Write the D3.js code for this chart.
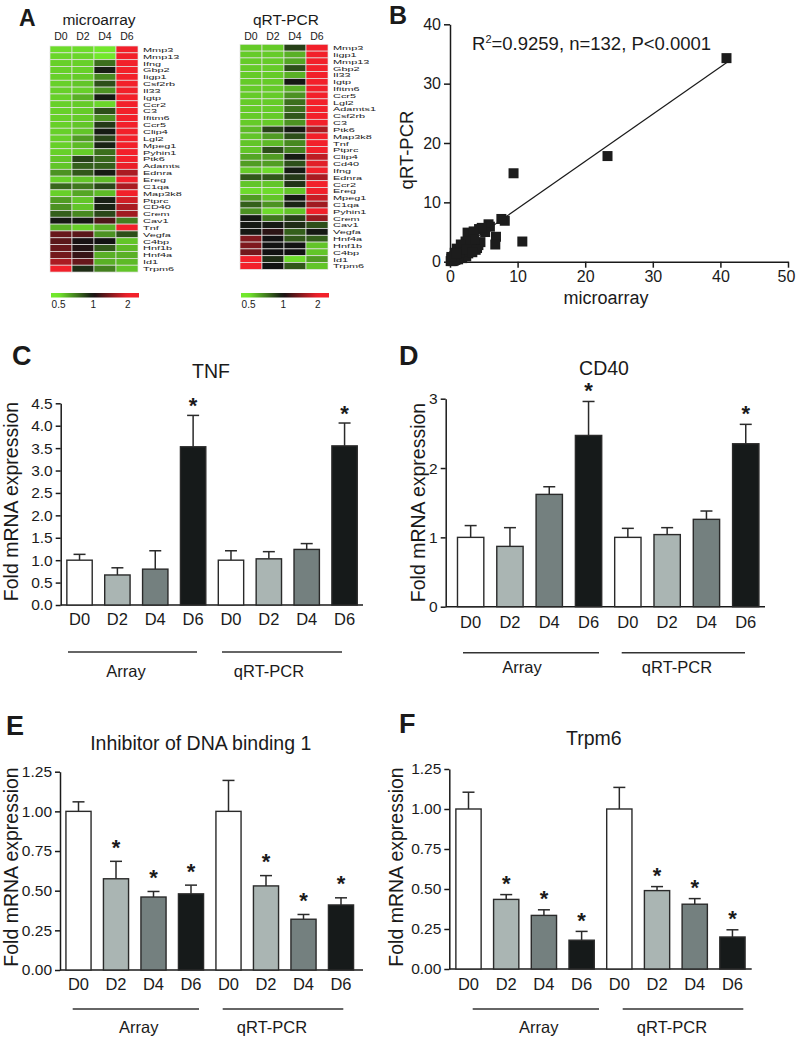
<!DOCTYPE html>
<html><head><meta charset="utf-8">
<script src="https://cdn.jsdelivr.net/npm/d3@7"></script>
<style>
body{margin:0;background:#fff}
svg{display:block}
text{font-family:"Liberation Sans",Arial,Helvetica,sans-serif;fill:#1a1a1a}
</style>
</head><body>
<svg id="chart" width="796" height="1037"></svg>
<script>
// ---------------- DATA ----------------
const days = ["D0","D2","D4","D6"];

// Panel A heatmaps (fold change, colour scale 0.5 green - 1 black - 2 red)
const arrayGenes = ["Mmp3","Mmp13","Ifng","Gbp2","Iigp1","Csf2rb","Il33","Igtp","Ccr2","C3","Ifitm6","Ccr5","Clip4","Lgl2","Mpeg1","Pyhin1","Ptk6","Adamts","Ednra","Ereg","C1qa","Map3k8","Ptprc","CD40","Crem","Cav1","Tnf","Vegfa","C4bp","Hnf1b","Hnf4a","Id1","Trpm6"];
const arrayValues = [
 [0.52,0.52,0.50,2.0],[0.53,0.53,0.50,2.0],[0.54,0.54,0.74,2.0],[0.54,0.54,0.96,2.0],
 [0.54,0.55,0.68,2.0],[0.54,0.56,0.82,2.0],[0.54,0.54,0.66,2.0],[0.54,0.60,0.97,2.0],
 [0.54,0.55,0.53,2.0],[0.54,0.55,0.82,2.0],[0.54,0.55,0.66,2.0],[0.54,0.56,0.88,2.0],
 [0.54,0.56,0.97,2.0],[0.54,0.64,0.85,2.0],[0.54,0.58,0.95,2.0],[0.54,0.55,0.74,2.0],
 [0.56,0.86,0.76,2.0],[0.56,0.78,0.78,1.95],[0.66,0.80,0.97,1.6],[0.54,0.56,0.58,2.0],
 [0.76,0.72,0.84,1.6],[0.54,0.62,0.58,2.0],[0.64,0.56,0.96,1.8],[0.66,0.56,0.95,1.6],
 [0.78,0.68,0.84,1.55],[0.98,0.98,1.20,0.70],[0.60,0.54,0.60,2.0],[1.30,1.25,0.66,0.82],
 [1.25,1.02,1.00,0.56],[1.30,1.05,0.80,0.58],[1.35,1.12,0.60,0.60],[1.60,1.30,0.60,0.58],
 [2.0,0.92,0.70,0.56]
];
const pcrGenes = ["Mmp3","Iigp1","Mmp13","Gbp2","Il33","Igtp","Ifitm6","Ccr5","Lgl2","Adamts1","Csf2rb","C3","Ptk6","Map3k8","Tnf","Ptprc","Clip4","Cd40","Ifng","Ednra","Ccr2","Ereg","Mpeg1","C1qa","Pyhin1","Crem","Cav1","Vegfa","Hnf4a","Hnf1b","C4bp","Id1","Trpm6"];
const pcrValues = [
 [0.55,0.55,0.86,2.0],[0.55,0.55,0.60,2.0],[0.55,0.55,0.62,2.0],[0.55,0.55,0.82,2.0],
 [0.55,0.55,0.60,2.0],[0.55,0.55,0.98,2.0],[0.55,0.55,0.60,2.0],[0.55,0.55,0.66,2.0],
 [0.55,0.55,0.74,2.0],[0.55,0.55,0.74,2.0],[0.55,0.55,0.80,2.0],[0.55,0.55,0.66,2.0],
 [0.58,0.85,0.97,1.6],[0.56,0.64,0.82,2.0],[0.56,0.58,0.68,2.0],[0.56,0.82,0.70,2.0],
 [0.62,0.64,0.97,1.7],[0.64,0.64,0.82,1.9],[0.55,0.52,0.97,2.0],[0.80,0.80,0.88,1.6],
 [0.56,0.56,0.90,2.0],[0.52,0.52,0.56,2.0],[0.64,0.56,0.97,1.75],[0.78,0.66,0.95,1.55],
 [0.66,0.52,0.56,2.0],[0.98,0.72,0.86,1.5],[0.98,0.98,0.92,0.82],[0.98,1.08,0.78,0.98],
 [1.40,1.00,0.80,0.78],[1.40,1.00,1.00,0.56],[1.35,1.00,1.00,0.56],[2.0,0.92,0.52,0.64],
 [2.0,1.00,0.80,0.56]
];
const colorbarTicks = [0.5, 1, 2];
const colorbarTickLabels = ["0.5","1","2"];

// Panel B scatter
const scatterX = [40.9,23.3,9.4,10.7,8.1,7.6,6.8,6.7,5.7,5.9,5.2,4.3,4.7,2.6,2.8,3.5,4.2,4.0,4.5,3.0,2.7,3.2,2.2,1.7,1.0,1.3,0.7,1.5,2.0,0.9,0.5,0.3,0.2,0.6,1.1,1.8,2.4,0.4,0.8,1.2,0.1,2.9,3.6,3.8,2.3,1.6,0.6,1.4,2.5,3.3,0.2,0.9];
const scatterY = [34.3,17.8,14.9,3.4,6.9,7.2,4.2,2.9,6.3,5.9,5.0,5.5,5.7,4.9,4.6,5.1,2.8,2.3,3.3,2.5,1.4,3.0,2.6,1.7,2.2,2.0,1.5,0.9,1.2,0.6,0.4,0.2,0.5,0.9,1.1,0.6,0.9,0.1,0.3,0.4,0.1,1.8,3.8,2.0,3.4,2.9,0.2,1.5,2.1,1.6,0.8,1.3];
const regLineX = [0, 41];
const regLineY = [1.0, 33.6];
const scatterXTicks = [0,10,20,30,40,50];
const scatterYTicks = [0,10,20,30,40];

// Panels C-F bar charts
const barCategories = ["D0","D2","D4","D6","D0","D2","D4","D6"];
const groupLabels = ["Array","qRT-PCR"];
const tnfMean  = [1.00,0.67,0.80,3.53,1.00,1.03,1.24,3.55];
const tnfSem   = [0.13,0.16,0.41,0.70,0.21,0.16,0.13,0.51];
const tnfSig   = [0,0,0,1,0,0,0,1];
const cd40Mean = [1.00,0.87,1.62,2.47,1.00,1.04,1.26,2.35];
const cd40Sem  = [0.17,0.27,0.11,0.49,0.13,0.10,0.12,0.28];
const cd40Sig  = [0,0,0,1,0,0,0,1];
const id1Mean  = [1.00,0.575,0.46,0.48,1.00,0.53,0.32,0.41];
const id1Sem   = [0.06,0.11,0.035,0.055,0.195,0.065,0.03,0.045];
const id1Sig   = [0,1,1,1,0,1,1,1];
const trpm6Mean= [1.00,0.435,0.335,0.18,1.00,0.49,0.405,0.20];
const trpm6Sem = [0.105,0.03,0.035,0.055,0.135,0.025,0.035,0.045];
const trpm6Sig = [0,1,1,1,0,1,1,1];
const tnfTicks = [0,0.5,1,1.5,2,2.5,3,3.5,4,4.5];
const cd40Ticks = [0,1,2,3];
const smallTicks = [0,0.25,0.5,0.75,1,1.25];

// ---------------- DRAWING ----------------
const svg = d3.select("#chart");
svg.append("rect").attr("width",796).attr("height",1037).attr("fill","#fff");
const INK = "#1a1a1a";

function panelLetter(t,x,y,fs){
  svg.append("text").attr("x",x).attr("y",y).attr("font-size",fs).attr("font-weight","bold").text(t);
}

// ----- Panel A -----
const heatColor = d3.scaleLog().domain([0.5,1,2]).range(["#72e82c","#121212","#f2202a"])
  .interpolate(d3.interpolateRgb).clamp(true);
const defs = svg.append("defs");

function heatmap(o){
  const g = svg.append("g");
  const x = d3.scaleBand().domain(days).range([o.x0,o.x1]);
  const y = d3.scaleBand().domain(o.genes).range([o.y0, o.y0 + o.genes.length*o.rowH]);
  o.genes.forEach((gene,i)=>{
    g.selectAll(null).data(o.values[i]).join("rect")
      .attr("x",(d,j)=>x(days[j])).attr("y",y(gene))
      .attr("width",x.bandwidth()).attr("height",y.bandwidth())
      .attr("fill",d=>heatColor(d)).attr("stroke","#e4e4e4").attr("stroke-width",0.7);
  });
  g.selectAll(null).data(o.genes).join("text")
    .attr("transform",d=>`translate(${o.labelX},${y(d)+y.bandwidth()/2+2.4}) scale(1.85,1)`)
    .attr("font-size",5.9).text(d=>d);
  g.selectAll(null).data(days).join("text")
    .attr("x",d=>x(d)+x.bandwidth()/2).attr("y",40).attr("text-anchor","middle")
    .attr("font-size",10.5).text(d=>d);
  g.append("text").attr("x",o.titleX).attr("y",25).attr("text-anchor","middle")
    .attr("font-size",15.5).text(o.title);
  // colour bar
  const cb = d3.scaleLog().domain([0.43,2.5]).range([o.x0+1,o.x1+1]);
  const gid = "grad"+o.id;
  const grad = defs.append("linearGradient").attr("id",gid);
  d3.range(0,1.0001,0.05).forEach(t=>{
    const v = cb.invert(o.x0+1 + t*(o.x1-o.x0));
    grad.append("stop").attr("offset",t).attr("stop-color",heatColor(v));
  });
  g.append("rect").attr("x",o.x0+1).attr("y",293).attr("width",o.x1-o.x0).attr("height",4.5)
    .attr("fill",`url(#${gid})`);
  g.selectAll(null).data(colorbarTicks).join("text")
    .attr("x",d=>cb(d)).attr("y",308).attr("text-anchor","middle").attr("font-size",10)
    .text((d,i)=>colorbarTickLabels[i]);
}
panelLetter("A",19,26,23);
heatmap({id:"a",title:"microarray",genes:arrayGenes,values:arrayValues,x0:50,x1:138,y0:46,rowH:6.85,labelX:143,titleX:99});
heatmap({id:"b",title:"qRT-PCR",genes:pcrGenes,values:pcrValues,x0:240,x1:328,y0:44.3,rowH:6.82,labelX:333,titleX:286});

// ----- Panel B -----
(function(){
  const xs = d3.scaleLinear().domain([0,50]).range([450,788]);
  const ys = d3.scaleLinear().domain([0,40]).range([261.7,24.3]);
  const gx = svg.append("g").attr("transform","translate(0,261.7)")
    .call(d3.axisBottom(xs).tickValues(scatterXTicks).tickSize(6).tickSizeOuter(0).tickPadding(3));
  const gy = svg.append("g").attr("transform","translate(450,0)")
    .call(d3.axisLeft(ys).tickValues(scatterYTicks).tickSize(6).tickSizeOuter(0).tickPadding(3));
  [gx,gy].forEach(a=>{
    a.select(".domain").attr("stroke",INK).attr("stroke-width",1.5);
    a.selectAll(".tick line").attr("stroke",INK).attr("stroke-width",1.5);
    a.selectAll(".tick text").attr("font-size",16).attr("fill",INK)
      .attr("font-family","Liberation Sans,Arial,sans-serif");
  });
  gx.selectAll(".tick text").filter(d=>d===50).attr("dx",-2);
  svg.append("line").attr("x1",xs(regLineX[0])).attr("y1",ys(regLineY[0]))
    .attr("x2",xs(regLineX[1])).attr("y2",ys(regLineY[1])).attr("stroke",INK).attr("stroke-width",1.2);
  svg.append("g").selectAll("rect").data(scatterX).join("rect")
    .attr("x",(d)=>xs(d)-5).attr("y",(d,i)=>ys(scatterY[i])-5)
    .attr("width",10).attr("height",10).attr("fill","#1c1c1c");
  const t = svg.append("text").attr("x",472).attr("y",50).attr("font-size",18.5);
  t.append("tspan").text("R");
  t.append("tspan").attr("font-size",11).attr("dy",-7).text("2");
  t.append("tspan").attr("dy",7).text("=0.9259, n=132, P<0.0001");
  svg.append("text").attr("x",606).attr("y",304).attr("text-anchor","middle").attr("font-size",18).text("microarray");
  svg.append("text").attr("transform","translate(413,150) rotate(-90)").attr("text-anchor","middle")
    .attr("font-size",18.5).text("qRT-PCR");
  panelLetter("B",389,24,25);
})();

// ----- Bar panels -----
const barFill = {D0:"#ffffff",D2:"#aab5b3",D4:"#74807f",D6:"#161a1a"};
function barPanel(o){
  const g = svg.append("g");
  const xb = d3.scaleBand().domain(d3.range(barCategories.length)).range(o.band)
    .paddingInner(0.33).paddingOuter(0.165);
  const y = d3.scaleLinear().domain([0,o.yMax]).range([o.yBase,o.yTop]);
  const ay = g.append("g").attr("transform",`translate(${o.axisX},0)`)
    .call(d3.axisLeft(y).tickValues(o.ticks).tickFormat(d3.format(o.fmt)).tickSize(5).tickSizeOuter(0).tickPadding(3));
  ay.select(".domain").attr("stroke",INK).attr("stroke-width",1.5);
  ay.selectAll(".tick line").attr("stroke",INK).attr("stroke-width",1.5);
  ay.selectAll(".tick text").attr("font-size",15.5).attr("fill",INK)
    .attr("font-family","Liberation Sans,Arial,sans-serif");
  g.append("line").attr("x1",o.axisX).attr("x2",o.axisEnd).attr("y1",o.yBase).attr("y2",o.yBase)
    .attr("stroke",INK).attr("stroke-width",1.5);
  const cx = i => xb(i)+xb.bandwidth()/2;
  // error bars
  o.mean.forEach((m,i)=>{
    const top = y(m+o.sem[i]);
    g.append("line").attr("x1",cx(i)).attr("x2",cx(i)).attr("y1",y(m)).attr("y2",top)
      .attr("stroke","#2a2a2a").attr("stroke-width",1.5);
    g.append("line").attr("x1",cx(i)-6).attr("x2",cx(i)+6).attr("y1",top).attr("y2",top)
      .attr("stroke","#2a2a2a").attr("stroke-width",1.5);
  });
  g.selectAll(null).data(o.mean).join("rect")
    .attr("x",(d,i)=>xb(i)).attr("y",d=>y(d)).attr("width",xb.bandwidth())
    .attr("height",d=>o.yBase-y(d)).attr("fill",(d,i)=>barFill[barCategories[i]])
    .attr("stroke","#2a2a2a").attr("stroke-width",1.4);
  const sigIdx = d3.range(o.mean.length).filter(i=>o.sig[i]===1);
  g.selectAll(null).data(sigIdx).join("text")
    .attr("x",i=>cx(i))
    .attr("y",i=>y(o.mean[i]+o.sem[i]) - o.starOff + 12.5)
    .attr("text-anchor","middle").attr("font-size",22).attr("font-weight","bold").text("*");
  g.selectAll(null).data(barCategories).join("text")
    .attr("x",(d,i)=>cx(i)).attr("y",o.xLabY).attr("text-anchor","middle").attr("font-size",16.5).text(d=>d);
  o.groups.forEach((gr,k)=>{
    g.append("line").attr("x1",gr[0]).attr("x2",gr[1]).attr("y1",o.groupY).attr("y2",o.groupY)
      .attr("stroke","#333").attr("stroke-width",1.4);
    g.append("text").attr("x",o.groupLabX[k]).attr("y",o.groupLabY).attr("text-anchor","middle")
      .attr("font-size",16.5).text(groupLabels[k]);
  });
  g.append("text").attr("x",o.titleX).attr("y",o.titleY).attr("text-anchor","middle").attr("font-size",19.5).text(o.title);
  g.append("text").attr("transform",`translate(${o.yLabX},${o.yLabY}) rotate(-90)`).attr("text-anchor","middle")
    .attr("font-size",19.5).text("Fold mRNA expression");
  panelLetter(o.letter,o.letterX,o.letterY,27);
}

barPanel({letter:"C",letterX:12,letterY:365,title:"TNF",titleX:211,titleY:378,
  mean:tnfMean,sem:tnfSem,sig:tnfSig,yMax:4.5,ticks:tnfTicks,fmt:".1f",
  axisX:60.7,axisEnd:363,band:[60.6,363.5],yBase:605,yTop:403.3,starOff:15,
  xLabY:625,groups:[[68,197],[222,342]],groupY:652,groupLabX:[126,269],groupLabY:677,yLabX:18,yLabY:501.5});
barPanel({letter:"D",letterX:399,letterY:365,title:"CD40",titleX:604,titleY:375,
  mean:cd40Mean,sem:cd40Sem,sig:cd40Sig,yMax:3,ticks:cd40Ticks,fmt:"d",
  axisX:445.7,axisEnd:765,band:[451,765.4],yBase:606.7,yTop:398.7,starOff:16,
  xLabY:628,groups:[[463,599],[621.7,745]],groupY:652.7,groupLabX:[522,677],groupLabY:673,yLabX:425,yLabY:502.5});
barPanel({letter:"E",letterX:6,letterY:735,title:"Inhibitor of DNA binding 1",titleX:200.7,titleY:750,
  mean:id1Mean,sem:id1Sem,sig:id1Sig,yMax:1.25,ticks:smallTicks,fmt:".2f",
  axisX:60,axisEnd:363,band:[59.75,359.75],yBase:970,yTop:771.7,starOff:19,
  xLabY:990,groups:[[72.7,199],[222.7,343.3]],groupY:1009,groupLabX:[138.8,272],groupLabY:1033,yLabX:18,yLabY:867});
barPanel({letter:"F",letterX:399,letterY:733,title:"Trpm6",titleX:593.8,titleY:745,
  mean:trpm6Mean,sem:trpm6Sem,sig:trpm6Sig,yMax:1.25,ticks:smallTicks,fmt:".2f",
  axisX:449.3,axisEnd:751.7,band:[449.65,751.3],yBase:969,yTop:769,starOff:16,
  xLabY:990,groups:[[472.7,599],[622.7,743.3]],groupY:1009,groupLabX:[538.8,672],groupLabY:1033,yLabX:403,yLabY:867});
</script>
</body></html>
